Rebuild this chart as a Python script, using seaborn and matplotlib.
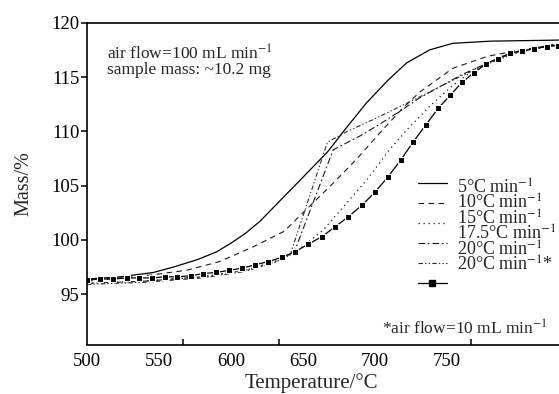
import matplotlib
matplotlib.use("Agg")
import matplotlib.pyplot as plt
import seaborn as sns
from matplotlib.lines import Line2D

# ---------------- data ----------------
t_5 = [500, 523, 546, 560, 577, 590, 600, 610, 620, 634, 648, 667, 680, 694, 709, 722, 738, 754, 780, 828]
m_5 = [96.4, 96.6, 97.0, 97.5, 98.2, 98.9, 99.7, 100.6, 101.7, 103.6, 105.5, 108.1, 110.3, 112.6, 114.7, 116.3, 117.5, 118.1, 118.3, 118.4]

t_10 = [500, 523, 546, 569, 592, 616, 637, 650, 670, 687, 703, 719, 731, 754, 778, 801, 828]
m_10 = [96.2, 96.5, 96.8, 97.2, 98.0, 99.4, 100.8, 102.5, 105.1, 107.4, 109.8, 112.1, 113.6, 115.8, 116.9, 117.5, 118.0]

t_15 = [500, 540, 580, 610, 634, 650, 664, 683, 696, 710, 724, 738, 752, 770, 790, 828]
m_15 = [96.0, 96.2, 96.6, 97.2, 98.1, 99.4, 100.9, 103.8, 105.8, 108.3, 110.4, 112.3, 114.0, 115.8, 117.0, 118.1]

t_175 = [500, 540, 580, 610, 630, 644, 671, 690, 705, 718, 730, 745, 760, 780, 800, 828]
m_175 = [96.0, 96.2, 96.6, 97.2, 98.0, 98.9, 108.3, 109.6, 110.8, 111.9, 113.0, 114.1, 115.2, 116.4, 117.4, 118.1]

t_20 = [500, 540, 580, 610, 630, 641, 667, 681, 699, 713, 730, 745, 760, 780, 800, 828]
m_20 = [95.9, 96.1, 96.5, 97.1, 97.9, 98.6, 109.0, 110.0, 111.1, 112.0, 113.1, 114.1, 115.1, 116.3, 117.3, 118.0]

t_20s = [500.0, 509.0, 518.1, 527.8, 536.1, 545.1, 554.2, 562.5, 572.2, 580.6, 589.6, 598.6,
         607.6, 616.7, 625.7, 635.4, 644.4, 653.5, 663.2, 672.2, 681.2, 691.0, 700.0, 709.0,
         718.1, 726.4, 735.4, 743.8, 752.1, 760.4, 768.8, 777.1, 785.4, 793.8, 802.1, 810.4,
         819.4, 827.1]
m_20s = [96.3, 96.4, 96.4, 96.5, 96.5, 96.5, 96.6, 96.6, 96.7, 96.9, 97.0, 97.2,
         97.4, 97.7, 98.0, 98.4, 98.9, 99.6, 100.3, 101.2, 102.1, 103.2, 104.4, 105.8,
         107.4, 109.0, 110.6, 112.1, 113.3, 114.5, 115.4, 116.2, 116.7, 117.2, 117.4, 117.6,
         117.8, 117.9]

labels = ["5°C min$^{-1}$", "10°C min$^{-1}$", "15°C min$^{-1}$",
          "17.5°C min$^{-1}$", "20°C min$^{-1}$", "20°C min$^{-1}$*"]
x_ticks = [500, 550, 600, 650, 700, 750]
y_ticks = [95, 100, 105, 110, 115, 120]

# ---------------- style ----------------
sns.set_theme(style="ticks")
plt.rcParams["font.family"] = ["Liberation Serif", "DejaVu Serif"]
plt.rcParams["mathtext.fontset"] = "stix"
plt.rcParams["axes.linewidth"] = 1.2

fig = plt.figure(figsize=(5.59, 3.94), dpi=100)
ax = fig.add_axes([87 / 559, 49.5 / 394, 472 / 559, 321.8 / 394])

series = [
    (t_5, m_5, dict(linestyle="-", lw=0.9)),
    (t_10, m_10, dict(linestyle=(0, (5, 4)), lw=0.8)),
    (t_15, m_15, dict(linestyle=(0, (1, 3)), lw=0.9)),
    (t_175, m_175, dict(linestyle=(0, (6, 2.5, 1.5, 2.5)), lw=0.8)),
    (t_20, m_20, dict(linestyle=(0, (4, 2, 1.2, 2, 1.2, 2)), lw=0.8)),
    (t_20s, m_20s, dict(linestyle="-", lw=0.9, marker="s", markersize=4.2)),
]
colors = ["#000000", "#1a1a1a", "#1a1a1a", "#1a1a1a", "#2a2a2a", "#000000"]
handles = []
for (tx, my, kw), c in zip(series, colors):
    sns.lineplot(x=tx, y=my, ax=ax, color=c, estimator=None, sort=False, **kw)
    h = Line2D([0], [0], color=c, **kw)
    handles.append(h)

ax.set_xlim(500, 827.8)
ax.set_ylim(90.37, 120)

ax.set_xticks(x_ticks)
ax.set_xticks([500, 566.7, 633.3, 700, 766.7], minor=True)
ax.tick_params(axis="x", which="major", length=0, pad=6, labelsize=13.5, colors="black")
ax.tick_params(axis="x", which="minor", direction="in", length=4, width=1.1, color="black")
ax.set_yticks(y_ticks)
ax.tick_params(axis="y", which="major", direction="out", length=4, width=1.1, pad=1.5,
               labelsize=13.5, colors="black")

for s in ["left", "bottom", "top"]:
    ax.spines[s].set_color("black")
    ax.spines[s].set_linewidth(1.2)
ax.spines["right"].set_visible(False)

ax.set_xlabel("Temperature/°C", fontsize=15)
ax.set_ylabel("Mass/%", fontsize=14.5)
ax.xaxis.set_label_coords(0.475, -0.088)
ax.yaxis.set_label_coords(-0.114, 0.5)

ax.text(0.0424, 0.884, "air flow=100 mL min$^{-1}$", transform=ax.transAxes,
        fontsize=12.5, va="baseline", ha="left")
ax.text(0.0424, 0.8406, "sample mass: ~10.2 mg", transform=ax.transAxes,
        fontsize=12.5, va="baseline", ha="left")
ax.text(0.9767, 0.0295, "*air flow=10 mL min$^{-1}$", transform=ax.transAxes,
        fontsize=12.5, va="baseline", ha="right")

# legend: line samples and their labels (labels packed more tightly as in the reference)
leg1 = ax.legend(handles, [""] * len(handles), loc="upper left",
                 bbox_to_anchor=(0.701, 0.5236), frameon=False, fontsize=13,
                 handlelength=1.6, handletextpad=0, labelspacing=0.17,
                 borderpad=0, borderaxespad=0)
ax.add_artist(leg1)
blank = [Line2D([0], [0], color="none") for _ in labels]
leg2 = ax.legend(blank, labels, loc="upper left", bbox_to_anchor=(0.784, 0.5165),
                 frameon=False, fontsize=13, handlelength=0, handletextpad=0,
                 labelspacing=-0.2, borderpad=0, borderaxespad=0)

fig.savefig("out.png", dpi=100)
